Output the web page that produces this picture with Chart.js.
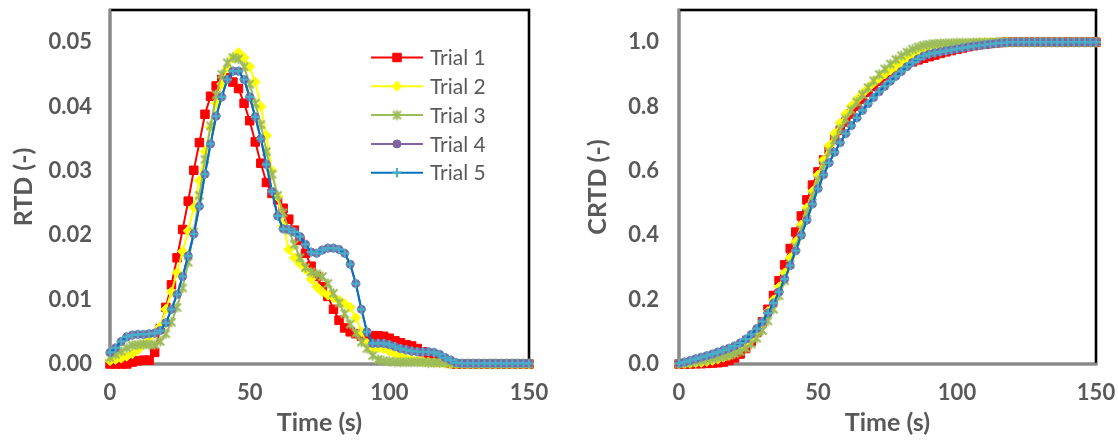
<!DOCTYPE html>
<html>
<head>
<meta charset="utf-8">
<script src="https://cdn.jsdelivr.net/npm/chart.js@4/dist/chart.umd.min.js"></script>
<style>
  html, body { margin: 0; padding: 0; background: #ffffff; }
  #wrap { position: relative; width: 1118px; height: 441px; overflow: hidden; }
  .panel { position: absolute; top: 0; width: 559px; height: 441px; }
</style>
</head>
<body>
<div id="wrap">
  <div class="panel" style="left:0"><canvas id="rtd" width="559" height="441"></canvas></div>
  <div class="panel" style="left:559px"><canvas id="crtd" width="559" height="441"></canvas></div>
</div>
<script>
// Sampling times (s)
const timeS = [0,2,4,6,8,10,12,14,16,18,20,22,24,26,28,30,32,34,36,38,40,42,44,46,48,50,52,54,56,58,
  60,62,64,66,68,70,72,74,76,78,80,82,84,86,88,90,92,94,96,98,100,102,104,106,108,110,112,114,116,118,
  120,122,124,126,128,130,132,134,136,138,140,142,144,146,148,150];

const trialNames = ['Trial 1', 'Trial 2', 'Trial 3', 'Trial 4', 'Trial 5'];

// Residence time distribution E(t)
const rtdTrial1 = [
  0,0,0,0,0.0003,0.0005,0.0006,0.0006,0.0018,0.0055,
  0.0088,0.0123,0.0165,0.0209,0.0253,0.0301,0.0344,0.0388,0.0416,0.0432,
  0.0442,0.0445,0.0438,0.0428,0.0405,0.0378,0.0345,0.0312,0.0282,0.0265,
  0.0255,0.0242,0.0225,0.0208,0.0192,0.0172,0.0152,0.0136,0.0120,0.0105,
  0.0085,0.0068,0.0056,0.0050,0.0047,0.0043,0.0042,0.0044,0.0044,0.0043,
  0.0040,0.0036,0.0033,0.0030,0.0028,0.0024,0.0019,0.0014,0.0009,0.0005,
  0.0003,0.0001,0,0,0,0,0,0,0,0,
  0,0,0,0,0,0];
const rtdTrial2 = [
  0.0005,0.0007,0.0009,0.0012,0.0016,0.0022,0.0030,0.0040,0.0048,0.0058,
  0.0085,0.0112,0.0142,0.0175,0.0207,0.0243,0.0285,0.0330,0.0368,0.0405,
  0.0435,0.0460,0.0476,0.0484,0.0476,0.0462,0.0438,0.0400,0.0355,0.0300,
  0.0260,0.0215,0.0178,0.0165,0.0156,0.0147,0.0132,0.0120,0.0112,0.0107,
  0.0103,0.0099,0.0094,0.0088,0.0072,0.0050,0.0032,0.0024,0.0025,0.0024,
  0.0020,0.0016,0.0012,0.0009,0.0007,0.0005,0.0004,0.0003,0.0002,0.0002,
  0.0001,0,0,0,0,0,0,0,0,0,
  0,0,0,0,0,0];
const rtdTrial3 = [
  0.0010,0.0015,0.0020,0.0025,0.0029,0.0030,0.0031,0.0030,0.0030,0.0035,
  0.0047,0.0065,0.0088,0.0118,0.0158,0.0205,0.0262,0.0318,0.0370,0.0418,
  0.0450,0.0468,0.0476,0.0474,0.0462,0.0435,0.0405,0.0372,0.0330,0.0295,
  0.0262,0.0235,0.0208,0.0186,0.0165,0.0150,0.0143,0.0140,0.0136,0.0125,
  0.0110,0.0095,0.0078,0.0062,0.0048,0.0034,0.0024,0.0013,0.0007,0.0005,
  0.0004,0.0003,0.0003,0.0003,0.0003,0.0003,0.0003,0.0002,0.0002,0.0002,
  0.0002,0.0001,0.0001,0,0,0,0,0,0,0,
  0,0,0,0,0,0];
const rtdTrial4 = [
  0.0018,0.0025,0.0035,0.0042,0.0045,0.0046,0.0046,0.0047,0.0048,0.0052,
  0.0064,0.0085,0.0108,0.0136,0.0168,0.0202,0.0245,0.0295,0.0342,0.0385,
  0.0415,0.0442,0.0455,0.0455,0.0442,0.0415,0.0384,0.0350,0.0310,0.0268,
  0.0230,0.0210,0.0209,0.0205,0.0198,0.0186,0.0174,0.0172,0.0177,0.0180,
  0.0180,0.0178,0.0172,0.0155,0.0125,0.0085,0.0050,0.0032,0.0032,0.0032,
  0.0030,0.0027,0.0024,0.0022,0.0020,0.0019,0.0019,0.0019,0.0018,0.0015,
  0.0010,0.0006,0.0002,0.0001,0.0001,0.0001,0.0001,0.0001,0.0001,0.0001,
  0.0001,0.0001,0.0001,0.0001,0.0001,0.0001];
const rtdTrial5 = [
  0.0018,0.0025,0.0035,0.0042,0.0045,0.0046,0.0046,0.0047,0.0048,0.0052,
  0.0064,0.0085,0.0108,0.0136,0.0168,0.0202,0.0245,0.0295,0.0342,0.0385,
  0.0415,0.0442,0.0455,0.0455,0.0442,0.0415,0.0384,0.0350,0.0310,0.0268,
  0.0230,0.0210,0.0209,0.0205,0.0198,0.0186,0.0174,0.0172,0.0177,0.0180,
  0.0180,0.0178,0.0172,0.0155,0.0125,0.0085,0.0050,0.0032,0.0032,0.0032,
  0.0030,0.0027,0.0024,0.0022,0.0020,0.0019,0.0019,0.0019,0.0018,0.0015,
  0.0010,0.0006,0.0002,0.0001,0.0001,0.0001,0.0001,0.0001,0.0001,0.0001,
  0.0001,0.0001,0.0001,0.0001,0.0001,0.0001];

// Cumulative residence time distribution F(t)
const crtdTrial1 = [
  0,0,0,0.001,0.001,0.002,0.003,0.004,0.006,0.011,
  0.019,0.031,0.048,0.070,0.098,0.131,0.170,0.213,0.259,0.308,
  0.359,0.410,0.460,0.510,0.556,0.597,0.634,0.667,0.698,0.726,
  0.752,0.777,0.801,0.823,0.844,0.863,0.879,0.893,0.905,0.916,
  0.925,0.933,0.939,0.945,0.950,0.955,0.960,0.965,0.970,0.974,
  0.978,0.982,0.986,0.989,0.992,0.994,0.996,0.998,0.999,1,
  1,1,1,1,1,1,1,1,1,1,
  1,1,1,1,1,1];
const crtdTrial2 = [
  0.001,0.001,0.002,0.004,0.005,0.008,0.011,0.015,0.021,0.027,
  0.036,0.048,0.064,0.083,0.105,0.132,0.163,0.199,0.239,0.283,
  0.330,0.380,0.432,0.485,0.536,0.587,0.634,0.678,0.716,0.749,
  0.777,0.802,0.822,0.841,0.858,0.874,0.888,0.901,0.913,0.925,
  0.936,0.947,0.957,0.967,0.974,0.980,0.983,0.986,0.989,0.991,
  0.993,0.995,0.996,0.997,0.998,0.999,0.999,1,1,1,
  1,1,1,1,1,1,1,1,1,1,
  1,1,1,1,1,1];
const crtdTrial3 = [
  0.001,0.003,0.005,0.008,0.011,0.014,0.017,0.020,0.023,0.027,
  0.032,0.039,0.049,0.062,0.080,0.104,0.134,0.170,0.212,0.259,
  0.310,0.363,0.417,0.470,0.521,0.570,0.616,0.658,0.696,0.730,
  0.761,0.789,0.814,0.837,0.859,0.880,0.900,0.917,0.932,0.946,
  0.958,0.969,0.978,0.985,0.990,0.993,0.995,0.996,0.997,0.997,
  0.998,0.998,0.998,0.999,0.999,0.999,0.999,1,1,1,
  1,1,1,1,1,1,1,1,1,1,
  1,1,1,1,1,1];
const crtdTrial4 = [
  0.002,0.006,0.011,0.016,0.021,0.026,0.031,0.037,0.043,0.049,
  0.056,0.065,0.077,0.092,0.110,0.132,0.158,0.189,0.224,0.264,
  0.306,0.352,0.400,0.447,0.497,0.545,0.588,0.625,0.658,0.688,
  0.716,0.741,0.765,0.788,0.809,0.828,0.846,0.863,0.879,0.894,
  0.909,0.924,0.937,0.948,0.957,0.963,0.967,0.970,0.973,0.976,
  0.979,0.982,0.985,0.988,0.990,0.992,0.994,0.996,0.998,0.999,
  1,1,1,1,1,1,1,1,1,1,
  1,1,1,1,1,1];
const crtdTrial5 = [
  0.002,0.006,0.011,0.016,0.021,0.026,0.031,0.037,0.043,0.049,
  0.056,0.065,0.077,0.092,0.110,0.132,0.158,0.189,0.224,0.264,
  0.306,0.352,0.400,0.447,0.497,0.545,0.588,0.625,0.658,0.688,
  0.716,0.741,0.765,0.788,0.809,0.828,0.846,0.863,0.879,0.894,
  0.909,0.924,0.937,0.948,0.957,0.963,0.967,0.970,0.973,0.976,
  0.979,0.982,0.985,0.988,0.990,0.992,0.994,0.996,0.998,0.999,
  1,1,1,1,1,1,1,1,1,1,
  1,1,1,1,1,1];

// Axis ticks
const timeTicks = [0, 50, 100, 150];
const rtdTicks = [0, 0.01, 0.02, 0.03, 0.04, 0.05];
const crtdTicks = [0, 0.2, 0.4, 0.6, 0.8, 1.0];

const GREY_TEXT = '#595959';
const FONT = 'Lato, "Open Sans", sans-serif';

// Excel-style asterisk marker (x with a vertical bar)
function asteriskMarker(color) {
  const size = 13;
  const c = document.createElement('canvas');
  c.width = size; c.height = size;
  const g = c.getContext('2d');
  g.strokeStyle = color;
  g.lineWidth = 2;
  const m = size / 2, d = 4;
  g.beginPath();
  g.moveTo(m - d, m - d); g.lineTo(m + d, m + d);
  g.moveTo(m + d, m - d); g.lineTo(m - d, m + d);
  g.moveTo(m, m - 5); g.lineTo(m, m + 5);
  g.stroke();
  return c;
}

const trialStyles = [
  { line: '#FF0000', fill: '#FF0000', edge: '#FF0000', shape: 'rect', r: 6, bw: 1 },
  { line: '#FFFF00', fill: '#FFFF00', edge: '#FFFF00', shape: 'rectRot', r: 5, bw: 1 },
  { line: '#9BBB59', fill: '#9BBB59', edge: '#9BBB59', shape: asteriskMarker('#9BBB59'), r: 5, bw: 1 },
  { line: '#8064A2', fill: '#8064A2', edge: '#8064A2', shape: 'circle', r: 4, bw: 1 },
  { line: '#0070C0', fill: '#4BACC6', edge: '#4BACC6', shape: 'cross', r: 4.6, bw: 2.2 }
];

function makeDatasets(seriesList) {
  return seriesList.map((vals, i) => {
    const s = trialStyles[i];
    return {
      label: trialNames[i],
      data: timeS.map((t, k) => ({ x: t, y: vals[k] })),
      borderColor: s.line,
      borderWidth: 2,
      backgroundColor: s.fill,
      pointStyle: s.shape,
      pointRadius: s.r,
      pointHoverRadius: s.r,
      pointBackgroundColor: s.fill,
      pointBorderColor: s.edge,
      pointBorderWidth: s.bw,
      tension: 0,
      clip: false,
      order: seriesList.length - i
    };
  });
}

// Plot-area frame: black box with grey axis lines on the left and bottom
const framePlugin = {
  id: 'frame',
  beforeDatasetsDraw(chart) {
    const { ctx, chartArea: a } = chart;
    ctx.save();
    ctx.lineWidth = 2.6;
    ctx.strokeStyle = '#000000';
    ctx.strokeRect(a.left, a.top, a.right - a.left, a.bottom - a.top);
    ctx.strokeStyle = '#8a8a8a';
    ctx.beginPath();
    ctx.moveTo(a.left, a.top - 1.3);
    ctx.lineTo(a.left, a.bottom);
    ctx.lineTo(a.right + 1.3, a.bottom);
    ctx.stroke();
    ctx.restore();
  }
};

// Legend drawn inside the RTD plot area, line + marker per trial
const insetLegend = {
  id: 'insetLegend',
  afterDatasetsDraw(chart, args, opts) {
    if (!opts || !opts.show) return;
    const { ctx } = chart;
    chart.data.datasets.forEach((ds, i) => {
      const y = opts.top + i * opts.rowGap;
      ctx.save();
      ctx.strokeStyle = ds.borderColor;
      ctx.lineWidth = 2;
      ctx.beginPath();
      ctx.moveTo(opts.lineX0, y);
      ctx.lineTo(opts.lineX1, y);
      ctx.stroke();
      ctx.fillStyle = ds.pointBackgroundColor;
      ctx.strokeStyle = ds.pointBorderColor;
      ctx.lineWidth = ds.pointBorderWidth;
      Chart.helpers.drawPoint(ctx, {
        pointStyle: ds.pointStyle, radius: ds.pointRadius,
        borderWidth: ds.pointBorderWidth, rotation: 0
      }, (opts.lineX0 + opts.lineX1) / 2, y);
      ctx.fillStyle = GREY_TEXT;
      ctx.font = '21px ' + FONT;
      ctx.textBaseline = 'middle';
      ctx.textAlign = 'left';
      ctx.fillText(ds.label, opts.textX, y + 1);
      ctx.restore();
    });
  }
};

function makeChart(canvasId, series, yMax, yTicks, yTitle, decimals, geom, legendOpts) {
  return new Chart(document.getElementById(canvasId), {
    type: 'line',
    data: { datasets: makeDatasets(series) },
    plugins: [framePlugin, insetLegend],
    options: {
      responsive: false,
      animation: false,
      events: [],
      layout: { padding: { top: geom.top, right: geom.right, left: 0, bottom: 0 } },
      plugins: {
        legend: { display: false },
        tooltip: { enabled: false },
        insetLegend: legendOpts
      },
      scales: {
        x: {
          type: 'linear', min: 0, max: 150,
          afterBuildTicks: s => { s.ticks = timeTicks.map(v => ({ value: v })); },
          afterFit: s => {
            s.height = geom.xAxisHeight;
            s.paddingLeft = 0; s.paddingRight = 0;
          },
          grid: { display: false, drawTicks: false },
          border: { display: false },
          ticks: {
            autoSkip: false, maxRotation: 0, padding: 16,
            color: GREY_TEXT, font: { family: FONT, size: 22, weight: 'bold' }
          },
          title: {
            display: true, text: 'Time (s)', color: GREY_TEXT,
            font: { family: FONT, size: 25, weight: 'bold' },
            padding: { top: 0, bottom: 3 }
          }
        },
        y: {
          type: 'linear', min: 0, max: yMax,
          afterBuildTicks: s => { s.ticks = yTicks.map(v => ({ value: v })); },
          afterFit: s => {
            s.width = geom.yAxisWidth;
            s.paddingTop = 0; s.paddingBottom = 0;
          },
          grid: { display: false, drawTicks: false },
          border: { display: false },
          ticks: {
            padding: geom.yTickPad,
            color: GREY_TEXT, font: { family: FONT, size: 22, weight: 'bold' },
            callback: v => Number(v).toFixed(decimals)
          },
          title: {
            display: true, text: yTitle, color: GREY_TEXT,
            font: { family: FONT, size: 25, weight: 'bold' },
            padding: { top: geom.yTitlePad, bottom: 0 }
          }
        }
      }
    }
  });
}

function draw() {
  makeChart('rtd',
    [rtdTrial1, rtdTrial2, rtdTrial3, rtdTrial4, rtdTrial5],
    0.055, rtdTicks, 'RTD (-)', 2,
    { top: 10, right: 30, xAxisHeight: 77, yAxisWidth: 110, yTickPad: 18, yTitlePad: 9 },
    { show: true, top: 57.5, rowGap: 28.8, lineX0: 371, lineX1: 423, textX: 430 });

  makeChart('crtd',
    [crtdTrial1, crtdTrial2, crtdTrial3, crtdTrial4, crtdTrial5],
    1.1, crtdTicks, 'CRTD (-)', 1,
    { top: 10, right: 22, xAxisHeight: 77, yAxisWidth: 120, yTickPad: 20, yTitlePad: 24 },
    { show: false });
}

if (document.fonts && document.fonts.load) {
  Promise.all([
    document.fonts.load('bold 22px Lato'),
    document.fonts.load('21px Lato')
  ]).then(draw, draw);
} else {
  draw();
}
</script>
</body>
</html>
